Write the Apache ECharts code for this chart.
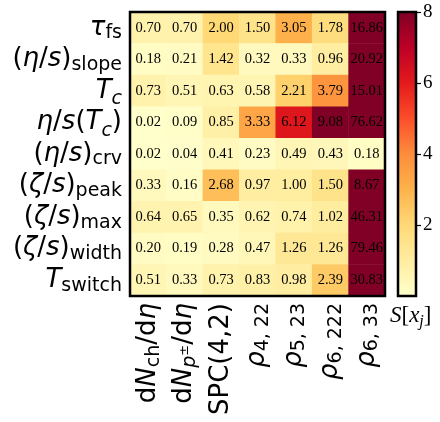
<!DOCTYPE html>
<html><head><meta charset="utf-8">
<script src="https://cdn.jsdelivr.net/npm/echarts@6/dist/echarts.min.js"></script>
<style>html,body{margin:0;padding:0;background:#fff}#c{width:440px;height:422px}</style>
</head><body><div id="c"></div>
<script>
// Column (observable) labels, rich-text markup
const xLabels = [
  '{n|d}{i|N}{s|ch}{n|/d}{i|η}',
  '{n|d}{i|N}{si|p}{sp|±}{n|/d}{i|η}',
  '{n|SPC(4,2)}',
  '{i|ρ}{s|4, 22}',
  '{i|ρ}{s|5, 23}',
  '{i|ρ}{s|6, 222}',
  '{i|ρ}{s|6, 33}'
];
// Row (parameter) labels, top to bottom
const yLabels = [
  '{i|τ}{s|fs}',
  '{n|(}{i|η}{n|/}{i|s}{n|)}{s|slope}',
  '{i|T}{sc|c}',
  '{i|η}{n|/}{i|s}{n|(}{i|T}{sc|c}{n|)}',
  '{n|(}{i|η}{n|/}{i|s}{n|)}{s|crv}',
  '{n|(}{i|ζ}{n|/}{i|s}{n|)}{s|peak}',
  '{n|(}{i|ζ}{n|/}{i|s}{n|)}{s|max}',
  '{n|(}{i|ζ}{n|/}{i|s}{n|)}{s|width}',
  '{i|T}{s|switch}'
];
// Sensitivity values, one array per row
const row_tau_fs    = [0.70, 0.70, 2.00, 1.50, 3.05, 1.78, 16.86];
const row_eta_slope = [0.18, 0.21, 1.42, 0.32, 0.33, 0.96, 20.92];
const row_Tc        = [0.73, 0.51, 0.63, 0.58, 2.21, 3.79, 15.01];
const row_eta_Tc    = [0.02, 0.09, 0.85, 3.33, 6.12, 9.08, 76.62];
const row_eta_crv   = [0.02, 0.04, 0.41, 0.23, 0.49, 0.43, 0.18];
const row_zeta_peak = [0.33, 0.16, 2.68, 0.97, 1.00, 1.50, 8.67];
const row_zeta_max  = [0.64, 0.65, 0.35, 0.62, 0.74, 1.02, 46.31];
const row_zeta_width= [0.20, 0.19, 0.28, 0.47, 1.26, 1.26, 79.46];
const row_T_switch  = [0.51, 0.33, 0.73, 0.83, 0.98, 2.39, 30.83];
const rows = [row_tau_fs, row_eta_slope, row_Tc, row_eta_Tc, row_eta_crv,
              row_zeta_peak, row_zeta_max, row_zeta_width, row_T_switch];
// Colour scale range and colorbar ticks
const cMin = 0, cMax = 8, cInterval = 2;
const ylorrd = ['#ffffcc','#ffeda0','#fed976','#feb24c','#fd8d3c','#fc4e2a','#e31a1c','#bd0026','#800026'];

const data = [];
rows.forEach((r, ri) => r.forEach((v, ci) => data.push([ci, ri, v])));

const F = 'DejaVu Sans';
const mathRich = {
  n: {fontFamily: F, fontSize: 26, color: '#000', lineHeight: 30},
  i: {fontFamily: F, fontSize: 26, fontStyle: 'italic', color: '#000', lineHeight: 30},
  s: {fontFamily: F, fontSize: 19, color: '#000', verticalAlign: 'bottom', lineHeight: 19},
  si: {fontFamily: F, fontSize: 19, fontStyle: 'italic', color: '#000', verticalAlign: 'bottom', lineHeight: 19},
  sc: {fontFamily: F, fontSize: 19, fontStyle: 'italic', color: '#000', verticalAlign: 'top', lineHeight: 19, padding: [14, 0, 0, 0]},
  sp: {fontFamily: F, fontSize: 13, color: '#000', verticalAlign: 'middle', lineHeight: 13}
};
const SF = 'Liberation Serif';

const chart = echarts.init(document.getElementById('c'), null, {renderer: 'canvas'});
chart.setOption({
  animation: false,
  backgroundColor: '#fff',
  title: {
    text: '{i|S}{n|[}{i|x}{s|j}{n|]}',
    left: 385, top: 297,
    textStyle: {
      fontWeight: 'normal',
      rich: {
        n: {fontFamily: SF, fontSize: 23, fontWeight: 'normal', color: '#000', lineHeight: 28},
        i: {fontFamily: SF, fontSize: 23, fontWeight: 'normal', fontStyle: 'italic', color: '#000', lineHeight: 28},
        s: {fontFamily: SF, fontSize: 16, fontWeight: 'normal', fontStyle: 'italic', color: '#000', verticalAlign: 'bottom', lineHeight: 16}
      }
    }
  },
  grid: [
    {left: 130, top: 12, width: 255, height: 284, show: true, borderColor: '#000', borderWidth: 2.5, backgroundColor: 'transparent', z: 10},
    {left: 398, top: 12, width: 18, height: 284, show: true, borderColor: '#000', borderWidth: 2.5, backgroundColor: 'transparent', z: 10}
  ],
  xAxis: [
    {type: 'category', data: xLabels, gridIndex: 0, position: 'bottom',
     axisLine: {show: false}, axisTick: {show: false}, splitLine: {show: false},
     axisLabel: {rotate: 90, margin: 7, interval: 0, rich: mathRich}},
    {type: 'category', data: ['cb'], gridIndex: 1, show: false}
  ],
  yAxis: [
    {type: 'category', data: yLabels, gridIndex: 0, inverse: true,
     axisLine: {show: false}, axisTick: {show: false}, splitLine: {show: false},
     axisLabel: {margin: 8, interval: 0, rich: mathRich}},
    {type: 'value', gridIndex: 1, min: cMin, max: cMax, interval: cInterval, position: 'right',
     axisLine: {show: false}, splitLine: {show: false},
     axisTick: {show: true, length: 5, lineStyle: {color: '#000', width: 1.2}},
     axisLabel: {showMinLabel: false, margin: 7, fontFamily: SF, fontSize: 19, color: '#000'}}
  ],
  visualMap: {
    show: false, seriesIndex: 0, min: cMin, max: cMax, dimension: 2,
    inRange: {color: ylorrd}
  },
  series: [
    {type: 'heatmap', xAxisIndex: 0, yAxisIndex: 0, data: data,
     label: {show: true, formatter: p => p.value[2].toFixed(2),
             fontFamily: SF, fontSize: 14.5, color: '#000'},
     itemStyle: {borderWidth: 0}, emphasis: {disabled: true}},
    {type: 'bar', xAxisIndex: 1, yAxisIndex: 1, data: [cMax], barWidth: '100%',
     silent: true,
     itemStyle: {color: new echarts.graphic.LinearGradient(0, 1, 0, 0,
       ylorrd.map((c, k) => ({offset: k / (ylorrd.length - 1), color: c})))}}
  ]
});
</script></body></html>
